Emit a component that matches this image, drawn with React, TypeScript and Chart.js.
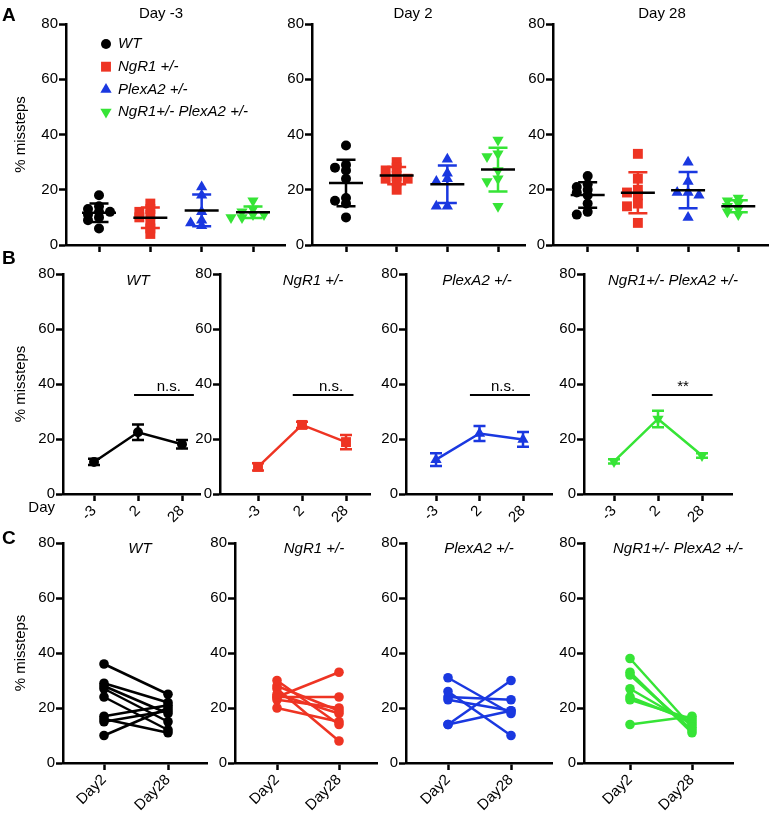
import React, { useEffect, useRef } from "react";
import { Chart, registerables } from "chart.js";

Chart.register(...registerables);

const FONT = "'Liberation Sans', Arial, Helvetica, sans-serif";

// ---------------- data ----------------
const groups = ["WT", "NgR1 +/-", "PlexA2 +/-", "NgR1+/- PlexA2 +/-"];
const groupColors = ["#000000", "#ee3423", "#1a38e0", "#36e436"];
const pointStyles = ["circle", "rect", "triangle", "triangle"];
const pointRotations = [0, 0, 0, 180];
const markerRadius = [5, 7, 6.5, 6.5];

const dayTitles = ["Day -3", "Day 2", "Day 28"];
const dayLabels = ["-3", "2", "28"];
const pairLabels = ["Day2", "Day28"];
const yTicks = [0, 20, 40, 60, 80];

// Day -3 individual values
const wtDayM3 = [18, 14, 13, 12, 12, 11, 10, 9, 6];
const ngr1DayM3 = [15, 13, 12, 11, 10, 8, 6, 4];
const plexDayM3 = [21, 18, 12, 9, 8, 7];
const dblDayM3 = [16, 13, 12, 11, 11, 10, 10];

// Day 2 / Day 28 paired values (same animal order)
const wtDay2 = [36, 29, 28, 27, 24, 17, 16, 15, 10];
const wtDay28 = [25, 22, 18, 15, 12, 21, 11, 19, 20];
const ngr1Day2 = [30, 28, 27, 25, 24, 24, 23, 20];
const ngr1Day28 = [14, 19, 8, 18, 33, 24, 20, 15];
const plexDay2 = [31, 26, 24, 23, 14, 14];
const plexDay28 = [18, 10, 23, 19, 30, 19];
const dblDay2 = [38, 33, 32, 27, 24, 23, 14];
const dblDay28 = [13, 11, 12, 14, 15, 16, 17];

const sigLabels = ["n.s.", "n.s.", "n.s.", "**"];
const sigValue = 36;

const dayM3 = [wtDayM3, ngr1DayM3, plexDayM3, dblDayM3];
const day2 = [wtDay2, ngr1Day2, plexDay2, dblDay2];
const day28 = [wtDay28, ngr1Day28, plexDay28, dblDay28];
const byDay = [dayM3, day2, day28];

// ---------------- helpers ----------------
function mean(a: number[]) {
  return a.reduce((s, v) => s + v, 0) / a.length;
}
function sd(a: number[]) {
  const m = mean(a);
  return Math.sqrt(a.reduce((s, v) => s + (v - m) ** 2, 0) / (a.length - 1));
}
function sem(a: number[]) {
  return sd(a) / Math.sqrt(a.length);
}

// simple beeswarm layout: returns horizontal offsets (in x units)
function swarm(values: number[], pxPerY: number, pxPerX: number, step: number, minDist: number): number[] {
  const order = values.map((_, i) => i).sort((a, b) => values[b] - values[a]);
  const placed: { x: number; y: number }[] = [];
  const out = new Array(values.length).fill(0);
  const cols = [0, -1, 1, -2, 2, -3, 3];
  for (const i of order) {
    const py = values[i] * pxPerY;
    for (const c of cols) {
      const px = c * step;
      if (placed.every((p) => (p.x - px) ** 2 + (p.y - py) ** 2 >= minDist * minDist - 0.01)) {
        out[i] = px / pxPerX;
        placed.push({ x: px, y: py });
        break;
      }
    }
  }
  return out;
}

function drawMarker(ctx: CanvasRenderingContext2D, style: string, rot: number, x: number, y: number, r: number, color: string) {
  ctx.save();
  ctx.fillStyle = color;
  ctx.beginPath();
  if (style === "circle") ctx.arc(x, y, r, 0, Math.PI * 2);
  else if (style === "rect") {
    const h = r * Math.SQRT1_2;
    ctx.rect(x - h, y - h, 2 * h, 2 * h);
  } else {
    const d = rot === 180 ? -1 : 1;
    ctx.moveTo(x, y - d * r);
    ctx.lineTo(x + r * 0.866, y + d * r * 0.5);
    ctx.lineTo(x - r * 0.866, y + d * r * 0.5);
    ctx.closePath();
  }
  ctx.fill();
  ctx.restore();
}

// ---------------- layout ----------------
type Spec = {
  left: number; top: number; width: number; height: number;
  axisX: number; endX: number; topY: number; zeroY: number;
  xMin: number; xMax: number; titleX: number; titleY: number;
};

function makeSpec(first: boolean, top: number, height: number, axisX: number, endX: number, topY: number, zeroY: number,
  tick0: number, tickLast: number, lastIdx: number, titleX: number, titleY: number): Spec {
  const left = first ? 0 : axisX - 45;
  const right = Math.min(endX + 40, 775);
  const ppu = (tickLast - tick0) / lastIdx;
  return {
    left, top, width: right - left, height, axisX, endX, topY, zeroY,
    xMin: (axisX - tick0) / ppu, xMax: lastIdx + (endX - tickLast) / ppu, titleX, titleY,
  };
}

const specsA = [
  makeSpec(true, 0, 258, 66, 285, 24, 245, 99, 253, 3, 161, 18),
  makeSpec(false, 0, 258, 312, 525, 24, 245, 346, 498, 3, 413, 18),
  makeSpec(false, 0, 258, 553, 770, 24, 245, 588, 740, 3, 662, 18),
];
const specsB = [
  makeSpec(true, 244, 284, 63, 200, 274, 494, 94, 182, 2, 138, 285),
  makeSpec(false, 244, 284, 220, 370, 274, 494, 258, 346, 2, 313, 285),
  makeSpec(false, 244, 284, 406, 552, 274, 494, 436, 523, 2, 477, 285),
  makeSpec(false, 244, 284, 584, 732, 274, 494, 614, 702, 2, 673, 285),
];
const specsC = [
  makeSpec(true, 524, 289, 63, 207, 543, 763, 104, 168, 1, 140, 553),
  makeSpec(false, 524, 289, 235, 377, 543, 763, 277, 339, 1, 314, 553),
  makeSpec(false, 524, 289, 406, 552, 543, 763, 448, 511, 1, 479, 553),
  makeSpec(false, 524, 289, 584, 733, 543, 763, 630, 692, 1, 678, 553),
];
// significance bar extents (in x-scale units) and label centre
const sigFrom = [0.91, 0.79, 0.78, 0.86];
const sigTo = [2.27, 2.17, 2.16, 2.24];
const sigTextX = [1.7, 1.66, 1.54, 1.57];

const allSpecs = [...specsA, ...specsB, ...specsC];

function scalesFor(spec: Spec, xTicks: number[], xLabels: string[] | null, yTitle: boolean): any {
  const grid = { display: true, drawOnChartArea: false, drawTicks: true, tickLength: 7, tickWidth: 2.5, tickColor: "#000", color: "#000" };
  const border = { display: true, color: "#000", width: 2.5 };
  return {
    x: {
      type: "linear",
      min: spec.xMin,
      max: spec.xMax,
      afterBuildTicks: (s: any) => { s.ticks = xTicks.map((v) => ({ value: v })); },
      afterFit: (s: any) => { s.height = spec.top + spec.height - spec.zeroY; },
      grid, border,
      ticks: {
        display: !!xLabels, autoSkip: false, minRotation: 45, maxRotation: 45, padding: 1,
        color: "#000", font: { size: 15, family: FONT },
        callback: (_v: any, i: number) => (xLabels ? xLabels[i] : ""),
      },
    },
    y: {
      type: "linear",
      min: 0,
      max: 80,
      afterBuildTicks: (s: any) => { s.ticks = yTicks.map((v) => ({ value: v })); },
      afterFit: (s: any) => { s.width = spec.axisX - spec.left; },
      grid, border,
      ticks: { padding: 1, color: "#000", font: { size: 15, family: FONT } },
      title: {
        display: yTitle, text: "% missteps", color: "#000",
        font: { size: 15, family: FONT }, padding: { top: 12, bottom: 0 },
      },
    },
  };
}

function baseOptions(spec: Spec, scales: any): any {
  return {
    responsive: false,
    maintainAspectRatio: false,
    animation: false,
    events: [],
    layout: { padding: { top: spec.topY - spec.top, right: spec.left + spec.width - spec.endX, left: 0, bottom: 0 } },
    plugins: { legend: { display: false }, tooltip: { enabled: false }, title: { display: false } },
    scales,
  };
}

function drawText(ctx: CanvasRenderingContext2D, text: string, x: number, y: number, font: string, align: CanvasTextAlign, baseline: CanvasTextBaseline = "alphabetic") {
  ctx.save();
  ctx.font = font;
  ctx.fillStyle = "#000";
  ctx.textAlign = align;
  ctx.textBaseline = baseline;
  ctx.fillText(text, x, y);
  ctx.restore();
}

function buildConfigs(): any[] {
  const configs: any[] = [];

  // Row A
  specsA.forEach((spec, d) => {
    const pxY = (spec.zeroY - spec.topY) / 80;
    const pxX = (spec.endX - spec.axisX) / (spec.xMax - spec.xMin);
    const datasets = groups.map((g, gi) => {
      const vals = byDay[d][gi];
      const offs = swarm(vals, pxY, pxX, 11, 5.5);
      return {
        label: g,
        data: vals.map((v, k) => ({ x: gi + offs[k], y: v })),
        showLine: false,
        pointStyle: pointStyles[gi],
        pointRotation: pointRotations[gi],
        pointRadius: markerRadius[gi],
        pointBackgroundColor: groupColors[gi],
        pointBorderColor: groupColors[gi],
        pointBorderWidth: 0,
      };
    });
    const plugin = {
      id: "rowA" + d,
      afterDatasetsDraw(chart: any) {
        const ctx = chart.ctx, xs = chart.scales.x, ys = chart.scales.y;
        groups.forEach((_, gi) => {
          const vals = byDay[d][gi];
          const m = mean(vals), s = sd(vals);
          const cx = xs.getPixelForValue(gi);
          const yHi = ys.getPixelForValue(m + s), yLo = ys.getPixelForValue(m - s), yM = ys.getPixelForValue(m);
          ctx.save();
          ctx.lineWidth = 2.5;
          ctx.strokeStyle = groupColors[gi];
          ctx.beginPath();
          ctx.moveTo(cx, yHi); ctx.lineTo(cx, yLo);
          ctx.moveTo(cx - 9.5, yHi); ctx.lineTo(cx + 9.5, yHi);
          ctx.moveTo(cx - 9.5, yLo); ctx.lineTo(cx + 9.5, yLo);
          ctx.stroke();
          ctx.strokeStyle = "#000";
          ctx.beginPath();
          ctx.moveTo(cx - 17, yM); ctx.lineTo(cx + 17, yM);
          ctx.stroke();
          ctx.restore();
        });
      },
      afterDraw(chart: any) {
        const ctx = chart.ctx;
        drawText(ctx, dayTitles[d], spec.titleX - spec.left, spec.titleY - spec.top, `15px ${FONT}`, "center");
        if (d === 0) {
          drawText(ctx, "A", 2 - spec.left, 21 - spec.top, `bold 19px ${FONT}`, "left");
          groups.forEach((g, gi) => {
            const x = spec.axisX + 40 - spec.left;
            const y = spec.topY + 20 + gi * 22.7 - spec.top;
            drawMarker(ctx, pointStyles[gi], pointRotations[gi], x, y, markerRadius[gi], groupColors[gi]);
            drawText(ctx, g, x + 12, y, `italic 15px ${FONT}`, "left", "middle");
          });
        }
      },
    };
    configs.push({
      type: "scatter",
      data: { datasets },
      options: baseOptions(spec, scalesFor(spec, [0, 1, 2, 3], null, d === 0)),
      plugins: [plugin],
    });
  });

  // Row B
  specsB.forEach((spec, gi) => {
    const series = byDay.map((day) => day[gi]);
    const datasets = [{
      label: groups[gi],
      data: series.map((v, i) => ({ x: i, y: mean(v) })),
      showLine: true,
      borderColor: groupColors[gi],
      borderWidth: 2.5,
      pointStyle: pointStyles[gi],
      pointRotation: pointRotations[gi],
      pointRadius: markerRadius[gi],
      pointBackgroundColor: groupColors[gi],
      pointBorderColor: groupColors[gi],
      pointBorderWidth: 0,
    }];
    const plugin = {
      id: "rowB" + gi,
      afterDatasetsDraw(chart: any) {
        const ctx = chart.ctx, xs = chart.scales.x, ys = chart.scales.y;
        ctx.save();
        ctx.lineWidth = 2.5;
        ctx.strokeStyle = groupColors[gi];
        series.forEach((v, i) => {
          const m = mean(v), e = sem(v);
          const cx = xs.getPixelForValue(i);
          const yHi = ys.getPixelForValue(m + e), yLo = ys.getPixelForValue(m - e);
          ctx.beginPath();
          ctx.moveTo(cx, yHi); ctx.lineTo(cx, yLo);
          ctx.moveTo(cx - 6, yHi); ctx.lineTo(cx + 6, yHi);
          ctx.moveTo(cx - 6, yLo); ctx.lineTo(cx + 6, yLo);
          ctx.stroke();
        });
        // significance bar
        const yb = ys.getPixelForValue(sigValue);
        ctx.strokeStyle = "#000";
        ctx.lineWidth = 2;
        ctx.beginPath();
        ctx.moveTo(xs.getPixelForValue(sigFrom[gi]), yb);
        ctx.lineTo(xs.getPixelForValue(sigTo[gi]), yb);
        ctx.stroke();
        ctx.restore();
        drawText(ctx, sigLabels[gi], xs.getPixelForValue(sigTextX[gi]), yb - 4, `15px ${FONT}`, "center");
      },
      afterDraw(chart: any) {
        const ctx = chart.ctx;
        drawText(ctx, groups[gi], spec.titleX - spec.left, spec.titleY - spec.top, `italic 15px ${FONT}`, "center");
        if (gi === 0) {
          drawText(ctx, "B", 2 - spec.left, 264 - spec.top, `bold 19px ${FONT}`, "left");
          drawText(ctx, "Day", spec.axisX - 8 - spec.left, spec.zeroY + 18 - spec.top, `15px ${FONT}`, "right");
        }
      },
    };
    configs.push({
      type: "scatter",
      data: { datasets },
      options: baseOptions(spec, scalesFor(spec, [0, 1, 2], dayLabels, gi === 0)),
      plugins: [plugin],
    });
  });

  // Row C
  specsC.forEach((spec, gi) => {
    const a = day2[gi], b = day28[gi];
    const datasets = a.map((v, k) => ({
      label: groups[gi] + " " + (k + 1),
      data: [{ x: 0, y: v }, { x: 1, y: b[k] }],
      showLine: true,
      borderColor: groupColors[gi],
      borderWidth: 2.5,
      pointStyle: "circle",
      pointRadius: 4.8,
      pointBackgroundColor: groupColors[gi],
      pointBorderColor: groupColors[gi],
      pointBorderWidth: 0,
    }));
    const plugin = {
      id: "rowC" + gi,
      afterDraw(chart: any) {
        const ctx = chart.ctx;
        drawText(ctx, groups[gi], spec.titleX - spec.left, spec.titleY - spec.top, `italic 15px ${FONT}`, "center");
        if (gi === 0) drawText(ctx, "C", 2 - spec.left, 544 - spec.top, `bold 19px ${FONT}`, "left");
      },
    };
    configs.push({
      type: "scatter",
      data: { datasets },
      options: baseOptions(spec, scalesFor(spec, [0, 1], pairLabels, gi === 0)),
      plugins: [plugin],
    });
  });

  return configs;
}

export default function App() {
  const refs = useRef<(HTMLCanvasElement | null)[]>([]);

  useEffect(() => {
    Chart.defaults.font.family = FONT;
    Chart.defaults.font.size = 15;
    Chart.defaults.color = "#000";
    const configs = buildConfigs();
    const charts: Chart[] = [];
    configs.forEach((cfg, i) => {
      const c = refs.current[i];
      if (c) charts.push(new Chart(c, cfg));
    });
    return () => charts.forEach((c) => c.destroy());
  }, []);

  return (
    <div style={{ position: "absolute", left: 0, top: 0, width: 775, height: 813, overflow: "hidden", background: "#fff" }}>
      {allSpecs.map((s, i) => (
        <canvas
          key={i}
          ref={(el) => { refs.current[i] = el; }}
          width={s.width}
          height={s.height}
          style={{ position: "absolute", left: s.left, top: s.top, width: s.width, height: s.height }}
        />
      ))}
    </div>
  );
}
